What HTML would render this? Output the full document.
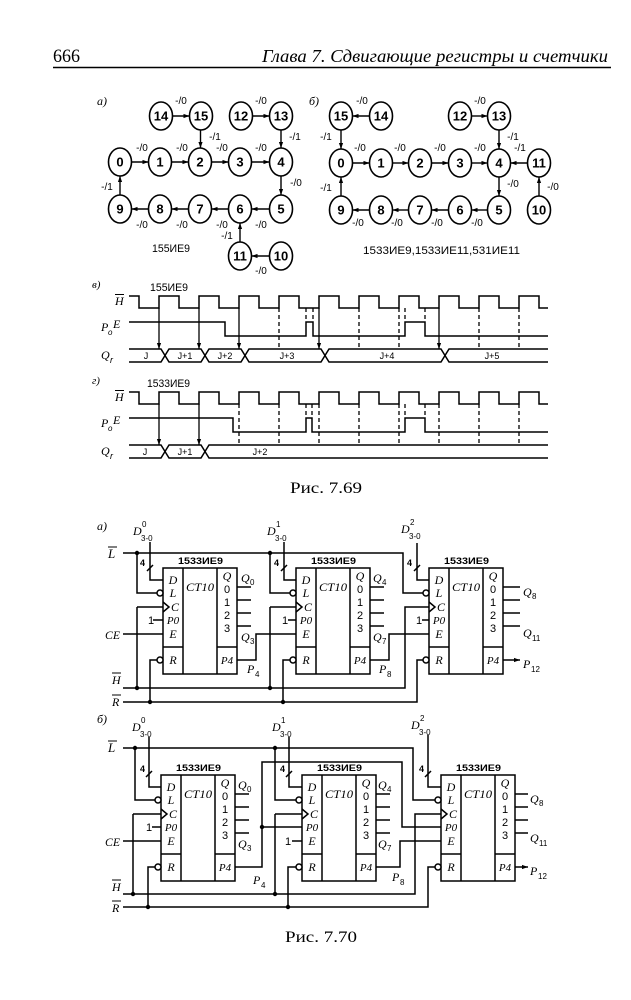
<!DOCTYPE html>
<html><head><meta charset="utf-8"><style>
html,body{margin:0;padding:0;background:#fff;}
svg{display:block;}
.s{font-family:"Liberation Sans","DejaVu Sans",sans-serif;}
.i{font-family:"Liberation Serif","DejaVu Serif",serif;font-style:italic;}
.r{font-family:"Liberation Serif","DejaVu Serif",serif;}
</style></head><body>
<svg width="631" height="1000" viewBox="0 0 631 1000" xmlns="http://www.w3.org/2000/svg">
<defs><marker id="a" viewBox="0 0 10 10" refX="10" refY="5" markerWidth="6" markerHeight="6" orient="auto" markerUnits="userSpaceOnUse"><path d="M0,1.5L10,5L0,8.5z" fill="#000"/></marker></defs>
<rect width="631" height="1000" fill="#fff"/>

<!-- Header -->
<text x="53" y="62" class="r" font-size="19" textLength="27" lengthAdjust="spacingAndGlyphs" fill="#000">666</text>
<text x="262" y="62" class="i" font-size="18" textLength="346" lengthAdjust="spacingAndGlyphs" fill="#000">Глава 7.  Сдвигающие регистры и счетчики</text>
<line x1="53" y1="67.5" x2="611" y2="67.5" stroke="#000" stroke-width="1.6"/>

<!-- State diagram a -->
<g fill="none" stroke="#000" stroke-width="1.6">
<ellipse cx="161" cy="116" rx="11.5" ry="14"/><ellipse cx="201" cy="116" rx="11.5" ry="14"/>
<ellipse cx="241" cy="116" rx="11.5" ry="14"/><ellipse cx="281" cy="116" rx="11.5" ry="14"/>
<ellipse cx="120" cy="162" rx="11.5" ry="14"/><ellipse cx="160" cy="162" rx="11.5" ry="14"/>
<ellipse cx="200" cy="162" rx="11.5" ry="14"/><ellipse cx="240" cy="162" rx="11.5" ry="14"/>
<ellipse cx="281" cy="162" rx="11.5" ry="14"/>
<ellipse cx="120" cy="209" rx="11.5" ry="14"/><ellipse cx="160" cy="209" rx="11.5" ry="14"/>
<ellipse cx="200" cy="209" rx="11.5" ry="14"/><ellipse cx="240" cy="209" rx="11.5" ry="14"/>
<ellipse cx="281" cy="209" rx="11.5" ry="14"/>
<ellipse cx="240" cy="256" rx="11.5" ry="14"/><ellipse cx="281" cy="256" rx="11.5" ry="14"/>
</g>
<g fill="none" stroke="#000" stroke-width="1.4" marker-end="url(#a)">
<path d="M172.5,116H189.5"/><path d="M252.5,116H269.5"/>
<path d="M200.5,130V148"/><path d="M281,130V148"/>
<path d="M131.5,162H148.5"/><path d="M171.5,162H188.5"/><path d="M211.5,162H228.5"/><path d="M251.5,162H269.5"/>
<path d="M281,176V195"/>
<path d="M269.5,209H251.5"/><path d="M228.5,209H211.5"/><path d="M188.5,209H171.5"/><path d="M148.5,209H131.5"/>
<path d="M120,195V176"/><path d="M240,242V223"/><path d="M269.5,256H251.5"/>
</g>
<g class="s" font-size="13" font-weight="bold" text-anchor="middle" fill="#000">
<text x="161" y="120.5">14</text><text x="201" y="120.5">15</text><text x="241" y="120.5">12</text><text x="281" y="120.5">13</text>
<text x="120" y="166.5">0</text><text x="160" y="166.5">1</text><text x="200" y="166.5">2</text><text x="240" y="166.5">3</text><text x="281" y="166.5">4</text>
<text x="120" y="213.5">9</text><text x="160" y="213.5">8</text><text x="200" y="213.5">7</text><text x="240" y="213.5">6</text><text x="281" y="213.5">5</text>
<text x="240" y="260.5">11</text><text x="281" y="260.5">10</text>
</g>
<g class="s" font-size="10" fill="#000" text-anchor="middle">
<text x="181" y="104">-/0</text><text x="261" y="104">-/0</text>
<text x="142" y="151">-/0</text><text x="182" y="151">-/0</text><text x="222" y="151">-/0</text><text x="261" y="151">-/0</text>
<text x="142" y="228">-/0</text><text x="182" y="228">-/0</text><text x="222" y="228">-/0</text><text x="261" y="228">-/0</text>
<text x="261" y="274">-/0</text>
<text x="215" y="140">-/1</text><text x="295" y="140">-/1</text><text x="296" y="186">-/0</text>
<text x="107" y="190">-/1</text><text x="227" y="239">-/1</text>
</g>
<text x="97" y="105" class="i" font-size="12" fill="#000">а)</text>
<text x="152" y="252" class="s" font-size="11" textLength="38" lengthAdjust="spacingAndGlyphs" fill="#000">155ИЕ9</text>

<!-- State diagram b -->
<g fill="none" stroke="#000" stroke-width="1.6">
<ellipse cx="341" cy="116" rx="11.5" ry="14"/><ellipse cx="381" cy="116" rx="11.5" ry="14"/>
<ellipse cx="460" cy="116" rx="11.5" ry="14"/><ellipse cx="499" cy="116" rx="11.5" ry="14"/>
<ellipse cx="341" cy="163" rx="11.5" ry="14"/><ellipse cx="381" cy="163" rx="11.5" ry="14"/>
<ellipse cx="420" cy="163" rx="11.5" ry="14"/><ellipse cx="460" cy="163" rx="11.5" ry="14"/>
<ellipse cx="499" cy="163" rx="11.5" ry="14"/><ellipse cx="539" cy="163" rx="11.5" ry="14"/>
<ellipse cx="341" cy="210" rx="11.5" ry="14"/><ellipse cx="381" cy="210" rx="11.5" ry="14"/>
<ellipse cx="420" cy="210" rx="11.5" ry="14"/><ellipse cx="460" cy="210" rx="11.5" ry="14"/>
<ellipse cx="499" cy="210" rx="11.5" ry="14"/><ellipse cx="539" cy="210" rx="11.5" ry="14"/>
</g>
<g fill="none" stroke="#000" stroke-width="1.4" marker-end="url(#a)">
<path d="M369.5,116H352.5"/><path d="M471.5,116H487.5"/>
<path d="M341,130V149"/><path d="M499,130V149"/>
<path d="M352.5,163H369.5"/><path d="M392.5,163H408.5"/><path d="M431.5,163H448.5"/><path d="M471.5,163H487.5"/>
<path d="M527.5,163H510.5"/>
<path d="M499,177V196"/>
<path d="M487.5,210H471.5"/><path d="M448.5,210H431.5"/><path d="M408.5,210H392.5"/><path d="M369.5,210H352.5"/>
<path d="M341,196V177"/><path d="M539,196V177"/>
</g>
<g class="s" font-size="13" font-weight="bold" text-anchor="middle" fill="#000">
<text x="341" y="120.5">15</text><text x="381" y="120.5">14</text><text x="460" y="120.5">12</text><text x="499" y="120.5">13</text>
<text x="341" y="167.5">0</text><text x="381" y="167.5">1</text><text x="420" y="167.5">2</text><text x="460" y="167.5">3</text><text x="499" y="167.5">4</text><text x="539" y="167.5">11</text>
<text x="341" y="214.5">9</text><text x="381" y="214.5">8</text><text x="420" y="214.5">7</text><text x="460" y="214.5">6</text><text x="499" y="214.5">5</text><text x="539" y="214.5">10</text>
</g>
<g class="s" font-size="10" fill="#000" text-anchor="middle">
<text x="362" y="104">-/0</text><text x="480" y="104">-/0</text>
<text x="326" y="140">-/1</text><text x="513" y="140">-/1</text>
<text x="360" y="151">-/0</text><text x="400" y="151">-/0</text><text x="440" y="151">-/0</text><text x="480" y="151">-/0</text>
<text x="520" y="151">-/1</text>
<text x="513" y="187">-/0</text><text x="553" y="190">-/0</text>
<text x="326" y="191">-/1</text>
<text x="358" y="226">-/0</text><text x="397" y="226">-/0</text><text x="437" y="226">-/0</text><text x="477" y="226">-/0</text>
</g>
<text x="309" y="105" class="i" font-size="12" fill="#000">б)</text>
<text x="363" y="254" class="s" font-size="11" textLength="157" lengthAdjust="spacingAndGlyphs" fill="#000">1533ИЕ9,1533ИЕ11,531ИЕ11</text>

<!-- Timing v -->
<g fill="none" stroke="#000" stroke-width="1.5">
<path d="M129,296H139V308H159V296H179V308H199V296H219V308H239V296H259V308H279V296H299V308H319V296H339V308H359V296H379V308H399V296H419V308H439V296H459V308H479V296H499V308H519V296H539V308H548"/>
<path d="M129,322H225V336H306V322H313V336H405V322H425V336H548"/>
<path d="M129,349H161L165,355.5L161,362H129"/>
<path d="M169,349H201L205,355.5L201,362H169L165,355.5Z"/>
<path d="M209,349H241L245,355.5L241,362H209L205,355.5Z"/>
<path d="M249,349H321L325,355.5L321,362H249L245,355.5Z"/>
<path d="M329,349H441L445,355.5L441,362H329L325,355.5Z"/>
<path d="M548,349H449L445,355.5L449,362H548"/>
</g>
<g fill="none" stroke="#000" stroke-width="1.3" marker-end="url(#a)">
<path d="M159,308V349"/><path d="M199,308V349"/><path d="M239,308V349"/><path d="M319,308V349"/><path d="M439,308V349"/>
</g>
<g fill="none" stroke="#000" stroke-width="1.3" stroke-dasharray="4,3">
<path d="M279,308V349M359,308V349M399,308V349M479,308V349M519,308V349"/>
<path d="M306,308V322M313,308V322M405,308V322M425,308V322"/>
</g>
<text x="92" y="288" class="i" font-size="11" fill="#000">в)</text>
<text x="150" y="291" class="s" font-size="11" textLength="38" lengthAdjust="spacingAndGlyphs" fill="#000">155ИЕ9</text>
<g class="i" fill="#000">
<text x="115" y="305" font-size="12">H</text>
<text x="101" y="331" font-size="12">P</text><text x="108" y="335" font-size="8" class="s">o</text><text x="113" y="328" font-size="12">E</text>
<text x="101" y="359" font-size="12">Q</text><text x="110" y="363" font-size="9" class="s">r</text>
</g>
<line x1="115" y1="294.5" x2="124" y2="294.5" stroke="#000" stroke-width="1"/>
<g class="s" font-size="9" fill="#000" text-anchor="middle">
<text x="146" y="359">J</text><text x="185" y="359">J+1</text><text x="225" y="359">J+2</text>
<text x="287" y="359">J+3</text><text x="387" y="359">J+4</text><text x="492" y="359">J+5</text>
</g>

<!-- Timing g -->
<g fill="none" stroke="#000" stroke-width="1.5">
<path d="M129,392H139V404H159V392H179V404H199V392H219V404H239V392H259V404H279V392H299V404H319V392H339V404H359V392H379V404H399V392H419V404H439V392H459V404H479V392H499V404H519V392H539V404H548"/>
<path d="M129,418H233V432H306V418H312V432H405V418H425V432H548"/>
<path d="M129,445H161L165,451.5L161,458H129"/>
<path d="M169,445H201L205,451.5L201,458H169L165,451.5Z"/>
<path d="M548,445H209L205,451.5L209,458H548"/>
</g>
<g fill="none" stroke="#000" stroke-width="1.3" marker-end="url(#a)">
<path d="M159,404V445"/><path d="M199,404V445"/>
</g>
<g fill="none" stroke="#000" stroke-width="1.3" stroke-dasharray="4,3">
<path d="M239,404V445M279,404V445M319,404V445M359,404V445M399,404V445M439,404V445M479,404V445M519,404V445"/>
<path d="M306,404V418M312,404V418M405,404V418M425,404V418"/>
</g>
<text x="92" y="384" class="i" font-size="11" fill="#000">г)</text>
<text x="147" y="387" class="s" font-size="11" textLength="43" lengthAdjust="spacingAndGlyphs" fill="#000">1533ИЕ9</text>
<g class="i" fill="#000">
<text x="115" y="401" font-size="12">H</text>
<text x="101" y="427" font-size="12">P</text><text x="108" y="431" font-size="8" class="s">o</text><text x="113" y="424" font-size="12">E</text>
<text x="101" y="455" font-size="12">Q</text><text x="110" y="459" font-size="9" class="s">r</text>
</g>
<line x1="115" y1="390.5" x2="124" y2="390.5" stroke="#000" stroke-width="1"/>
<g class="s" font-size="9" fill="#000" text-anchor="middle">
<text x="145" y="455">J</text><text x="185" y="455">J+1</text><text x="260" y="455">J+2</text>
</g>

<text x="290" y="493" class="r" font-size="16" textLength="72" lengthAdjust="spacingAndGlyphs" fill="#000">Рис. 7.69</text>

<!-- ===== Fig 7.70 a ===== -->
<text x="97" y="530" class="i" font-size="12" fill="#000">а)</text>
<g class="i" fill="#000">
<text x="108" y="558" font-size="13">L</text>
<text x="105" y="639" font-size="12" textLength="15" lengthAdjust="spacingAndGlyphs">CE</text>
<text x="112" y="684" font-size="12">H</text>
<text x="112" y="706" font-size="12">R</text>
<text x="133" y="535" font-size="12">D</text><text x="267" y="535" font-size="12">D</text><text x="401" y="533" font-size="12">D</text>
</g>
<g stroke="#000" stroke-width="1"><line x1="108" y1="547" x2="117" y2="547"/><line x1="112" y1="673" x2="121" y2="673"/><line x1="112" y1="695" x2="121" y2="695"/></g>
<g class="s" fill="#000" font-size="8">
<text x="142" y="527">0</text><text x="141" y="541">3-0</text>
<text x="276" y="527">1</text><text x="275" y="541">3-0</text>
<text x="410" y="525">2</text><text x="409" y="539">3-0</text>
</g>
<g fill="none" stroke="#000" stroke-width="1.5">
<path d="M123,553H403V593H426"/>
<path d="M123,688H405V607H429"/>
<path d="M123,702H417V660H426"/>
<path d="M123,634H163"/>
<path d="M137,553V593H160"/>
<path d="M137,607H163M137,607V688"/>
<path d="M150,542V580H163"/>
<path d="M153,620H163"/>
<path d="M160,660H150V702"/>
<path d="M237,660H256V634H296"/>
<path d="M270,553V593H293"/>
<path d="M270,607H296M270,607V688"/>
<path d="M284,542V580H296"/>
<path d="M288,620H296"/>
<path d="M293,660H283V702"/>
<path d="M370,660H389V634H429"/>
<path d="M417,543V580H429"/>
<path d="M422,620H429"/>
<path d="M147,571L153,565M281,571L287,565M414,571L420,565"/>
</g>
<g fill="#000">
<circle cx="137" cy="553" r="2.2"/><circle cx="270" cy="553" r="2.2"/>
<circle cx="137" cy="688" r="2.2"/><circle cx="270" cy="688" r="2.2"/>
<circle cx="150" cy="702" r="2.2"/><circle cx="283" cy="702" r="2.2"/>
</g>
<g class="s" font-size="9" font-weight="bold" fill="#000">
<text x="140" y="566">4</text><text x="274" y="566">4</text><text x="407" y="566">4</text>
<text x="148" y="624" font-weight="normal" font-size="11">1</text><text x="282" y="624" font-weight="normal" font-size="11">1</text><text x="416" y="624" font-weight="normal" font-size="11">1</text>
</g>

<g transform="translate(163,568)">
<g fill="none" stroke="#000" stroke-width="1.5">
<rect x="0" y="0" width="74" height="106"/><path d="M20,0V106M54,0V106M0,79H20M54,79H74M0,34L6,39L0,44"/>
<path d="M74,19H88M74,32H88M74,45H88M74,58H88"/>
<circle cx="-3" cy="25" r="3" fill="#fff"/><circle cx="-3" cy="92" r="3" fill="#fff"/>
</g>
<text x="15" y="-4" class="s" font-size="9" font-weight="bold" textLength="45" lengthAdjust="spacingAndGlyphs" fill="#000">1533ИЕ9</text>
<g class="i" font-size="12" fill="#000" text-anchor="middle">
<text x="10" y="16">D</text><text x="10" y="29">L</text><text x="12" y="43">C</text><text x="10" y="56" font-size="11">P0</text><text x="10" y="70">E</text><text x="10" y="96">R</text>
<text x="37" y="23" textLength="28" lengthAdjust="spacingAndGlyphs">CT10</text>
<text x="64" y="12">Q</text><text x="64" y="96" font-size="11">P4</text>
</g>
<g class="s" font-size="11" fill="#000" text-anchor="middle"><text x="64" y="25">0</text><text x="64" y="38">1</text><text x="64" y="51">2</text><text x="64" y="64">3</text></g>
</g>
<g transform="translate(296,568)">
<g fill="none" stroke="#000" stroke-width="1.5">
<rect x="0" y="0" width="74" height="106"/><path d="M20,0V106M54,0V106M0,79H20M54,79H74M0,34L6,39L0,44"/>
<path d="M74,19H88M74,32H88M74,45H88M74,58H88"/>
<circle cx="-3" cy="25" r="3" fill="#fff"/><circle cx="-3" cy="92" r="3" fill="#fff"/>
</g>
<text x="15" y="-4" class="s" font-size="9" font-weight="bold" textLength="45" lengthAdjust="spacingAndGlyphs" fill="#000">1533ИЕ9</text>
<g class="i" font-size="12" fill="#000" text-anchor="middle">
<text x="10" y="16">D</text><text x="10" y="29">L</text><text x="12" y="43">C</text><text x="10" y="56" font-size="11">P0</text><text x="10" y="70">E</text><text x="10" y="96">R</text>
<text x="37" y="23" textLength="28" lengthAdjust="spacingAndGlyphs">CT10</text>
<text x="64" y="12">Q</text><text x="64" y="96" font-size="11">P4</text>
</g>
<g class="s" font-size="11" fill="#000" text-anchor="middle"><text x="64" y="25">0</text><text x="64" y="38">1</text><text x="64" y="51">2</text><text x="64" y="64">3</text></g>
</g>
<g transform="translate(429,568)">
<g fill="none" stroke="#000" stroke-width="1.5">
<rect x="0" y="0" width="74" height="106"/><path d="M20,0V106M54,0V106M0,79H20M54,79H74M0,34L6,39L0,44"/>
<path d="M74,19H91M74,32H91M74,45H91M74,58H91"/>
<circle cx="-3" cy="25" r="3" fill="#fff"/><circle cx="-3" cy="92" r="3" fill="#fff"/>
<path d="M74,92H91" marker-end="url(#a)"/>
</g>
<text x="15" y="-4" class="s" font-size="9" font-weight="bold" textLength="45" lengthAdjust="spacingAndGlyphs" fill="#000">1533ИЕ9</text>
<g class="i" font-size="12" fill="#000" text-anchor="middle">
<text x="10" y="16">D</text><text x="10" y="29">L</text><text x="12" y="43">C</text><text x="10" y="56" font-size="11">P0</text><text x="10" y="70">E</text><text x="10" y="96">R</text>
<text x="37" y="23" textLength="28" lengthAdjust="spacingAndGlyphs">CT10</text>
<text x="64" y="12">Q</text><text x="64" y="96" font-size="11">P4</text>
</g>
<g class="s" font-size="11" fill="#000" text-anchor="middle"><text x="64" y="25">0</text><text x="64" y="38">1</text><text x="64" y="51">2</text><text x="64" y="64">3</text></g>
</g>
<g class="i" font-size="12" fill="#000">
<text x="241" y="582">Q</text><text x="241" y="641">Q</text><text x="247" y="673">P</text>
<text x="373" y="582">Q</text><text x="373" y="641">Q</text><text x="379" y="673">P</text>
<text x="523" y="596">Q</text><text x="523" y="637">Q</text><text x="523" y="668">P</text>
</g>
<g class="s" font-size="8" fill="#000">
<text x="250" y="585">0</text><text x="250" y="644">3</text><text x="255" y="677">4</text>
<text x="382" y="585">4</text><text x="382" y="644">7</text><text x="387" y="677">8</text>
<text x="532" y="599">8</text><text x="532" y="641">11</text><text x="531" y="672">12</text>
</g>

<!-- ===== Fig 7.70 b ===== -->
<text x="97" y="723" class="i" font-size="12" fill="#000">б)</text>
<g class="i" fill="#000">
<text x="108" y="752" font-size="13">L</text>
<text x="105" y="846" font-size="12" textLength="15" lengthAdjust="spacingAndGlyphs">CE</text>
<text x="112" y="891" font-size="12">H</text>
<text x="112" y="912" font-size="12">R</text>
<text x="132" y="731" font-size="12">D</text><text x="272" y="731" font-size="12">D</text><text x="411" y="729" font-size="12">D</text>
</g>
<g stroke="#000" stroke-width="1"><line x1="108" y1="741" x2="117" y2="741"/><line x1="112" y1="880" x2="121" y2="880"/><line x1="112" y1="901" x2="121" y2="901"/></g>
<g class="s" fill="#000" font-size="8">
<text x="141" y="723">0</text><text x="140" y="737">3-0</text>
<text x="281" y="723">1</text><text x="280" y="737">3-0</text>
<text x="420" y="721">2</text><text x="419" y="735">3-0</text>
</g>
<g fill="none" stroke="#000" stroke-width="1.5">
<path d="M123,748H413V800H438"/>
<path d="M123,894H415V814H441"/>
<path d="M123,907H428V867H438"/>
<path d="M123,841H161"/>
<path d="M135,748V800H158"/>
<path d="M133,814H161M133,814V894"/>
<path d="M149,737V787H161"/>
<path d="M152,827H161"/>
<path d="M158,867H148V907"/>
<path d="M235,867H262V762H402V827H441"/>
<path d="M262,827H302"/>
<path d="M275,748V800H299"/>
<path d="M275,814H302M275,814V894"/>
<path d="M289,737V787H302"/>
<path d="M292,841H302"/>
<path d="M299,867H288V907"/>
<path d="M376,867H400V841H441"/>
<path d="M428,735V787H441"/>
<path d="M146,777L152,771M286,777L292,771M425,777L431,771"/>
</g>
<g fill="#000">
<circle cx="135" cy="748" r="2.2"/><circle cx="275" cy="748" r="2.2"/>
<circle cx="133" cy="894" r="2.2"/><circle cx="275" cy="894" r="2.2"/>
<circle cx="148" cy="907" r="2.2"/><circle cx="288" cy="907" r="2.2"/>
<circle cx="262" cy="827" r="2.2"/>
</g>
<g class="s" font-size="9" font-weight="bold" fill="#000">
<text x="140" y="772">4</text><text x="280" y="772">4</text><text x="419" y="772">4</text>
<text x="146" y="831" font-weight="normal" font-size="11">1</text><text x="285" y="845" font-weight="normal" font-size="11">1</text>
</g>

<g transform="translate(161,775)">
<g fill="none" stroke="#000" stroke-width="1.5">
<rect x="0" y="0" width="74" height="106"/><path d="M20,0V106M54,0V106M0,79H20M54,79H74M0,34L6,39L0,44"/>
<path d="M74,19H88M74,32H88M74,45H88M74,58H88"/>
<circle cx="-3" cy="25" r="3" fill="#fff"/><circle cx="-3" cy="92" r="3" fill="#fff"/>
</g>
<text x="15" y="-4" class="s" font-size="9" font-weight="bold" textLength="45" lengthAdjust="spacingAndGlyphs" fill="#000">1533ИЕ9</text>
<g class="i" font-size="12" fill="#000" text-anchor="middle">
<text x="10" y="16">D</text><text x="10" y="29">L</text><text x="12" y="43">C</text><text x="10" y="56" font-size="11">P0</text><text x="10" y="70">E</text><text x="10" y="96">R</text>
<text x="37" y="23" textLength="28" lengthAdjust="spacingAndGlyphs">CT10</text>
<text x="64" y="12">Q</text><text x="64" y="96" font-size="11">P4</text>
</g>
<g class="s" font-size="11" fill="#000" text-anchor="middle"><text x="64" y="25">0</text><text x="64" y="38">1</text><text x="64" y="51">2</text><text x="64" y="64">3</text></g>
</g>
<g transform="translate(302,775)">
<g fill="none" stroke="#000" stroke-width="1.5">
<rect x="0" y="0" width="74" height="106"/><path d="M20,0V106M54,0V106M0,79H20M54,79H74M0,34L6,39L0,44"/>
<path d="M74,19H88M74,32H88M74,45H88M74,58H88"/>
<circle cx="-3" cy="25" r="3" fill="#fff"/><circle cx="-3" cy="92" r="3" fill="#fff"/>
</g>
<text x="15" y="-4" class="s" font-size="9" font-weight="bold" textLength="45" lengthAdjust="spacingAndGlyphs" fill="#000">1533ИЕ9</text>
<g class="i" font-size="12" fill="#000" text-anchor="middle">
<text x="10" y="16">D</text><text x="10" y="29">L</text><text x="12" y="43">C</text><text x="10" y="56" font-size="11">P0</text><text x="10" y="70">E</text><text x="10" y="96">R</text>
<text x="37" y="23" textLength="28" lengthAdjust="spacingAndGlyphs">CT10</text>
<text x="64" y="12">Q</text><text x="64" y="96" font-size="11">P4</text>
</g>
<g class="s" font-size="11" fill="#000" text-anchor="middle"><text x="64" y="25">0</text><text x="64" y="38">1</text><text x="64" y="51">2</text><text x="64" y="64">3</text></g>
</g>
<g transform="translate(441,775)">
<g fill="none" stroke="#000" stroke-width="1.5">
<rect x="0" y="0" width="74" height="106"/><path d="M20,0V106M54,0V106M0,79H20M54,79H74M0,34L6,39L0,44"/>
<path d="M74,19H87M74,32H87M74,45H87M74,58H87"/>
<circle cx="-3" cy="25" r="3" fill="#fff"/><circle cx="-3" cy="92" r="3" fill="#fff"/>
<path d="M74,92H87" marker-end="url(#a)"/>
</g>
<text x="15" y="-4" class="s" font-size="9" font-weight="bold" textLength="45" lengthAdjust="spacingAndGlyphs" fill="#000">1533ИЕ9</text>
<g class="i" font-size="12" fill="#000" text-anchor="middle">
<text x="10" y="16">D</text><text x="10" y="29">L</text><text x="12" y="43">C</text><text x="10" y="56" font-size="11">P0</text><text x="10" y="70">E</text><text x="10" y="96">R</text>
<text x="37" y="23" textLength="28" lengthAdjust="spacingAndGlyphs">CT10</text>
<text x="64" y="12">Q</text><text x="64" y="96" font-size="11">P4</text>
</g>
<g class="s" font-size="11" fill="#000" text-anchor="middle"><text x="64" y="25">0</text><text x="64" y="38">1</text><text x="64" y="51">2</text><text x="64" y="64">3</text></g>
</g>
<g class="i" font-size="12" fill="#000">
<text x="238" y="789">Q</text><text x="238" y="848">Q</text><text x="253" y="884">P</text>
<text x="378" y="789">Q</text><text x="378" y="848">Q</text><text x="392" y="881">P</text>
<text x="530" y="803">Q</text><text x="530" y="842">Q</text><text x="530" y="875">P</text>
</g>
<g class="s" font-size="8" fill="#000">
<text x="247" y="792">0</text><text x="247" y="851">3</text><text x="261" y="888">4</text>
<text x="387" y="792">4</text><text x="387" y="851">7</text><text x="400" y="885">8</text>
<text x="539" y="806">8</text><text x="539" y="846">11</text><text x="538" y="879">12</text>
</g>

<text x="285" y="942" class="r" font-size="16" textLength="72" lengthAdjust="spacingAndGlyphs" fill="#000">Рис. 7.70</text>
</svg>
</body></html>
